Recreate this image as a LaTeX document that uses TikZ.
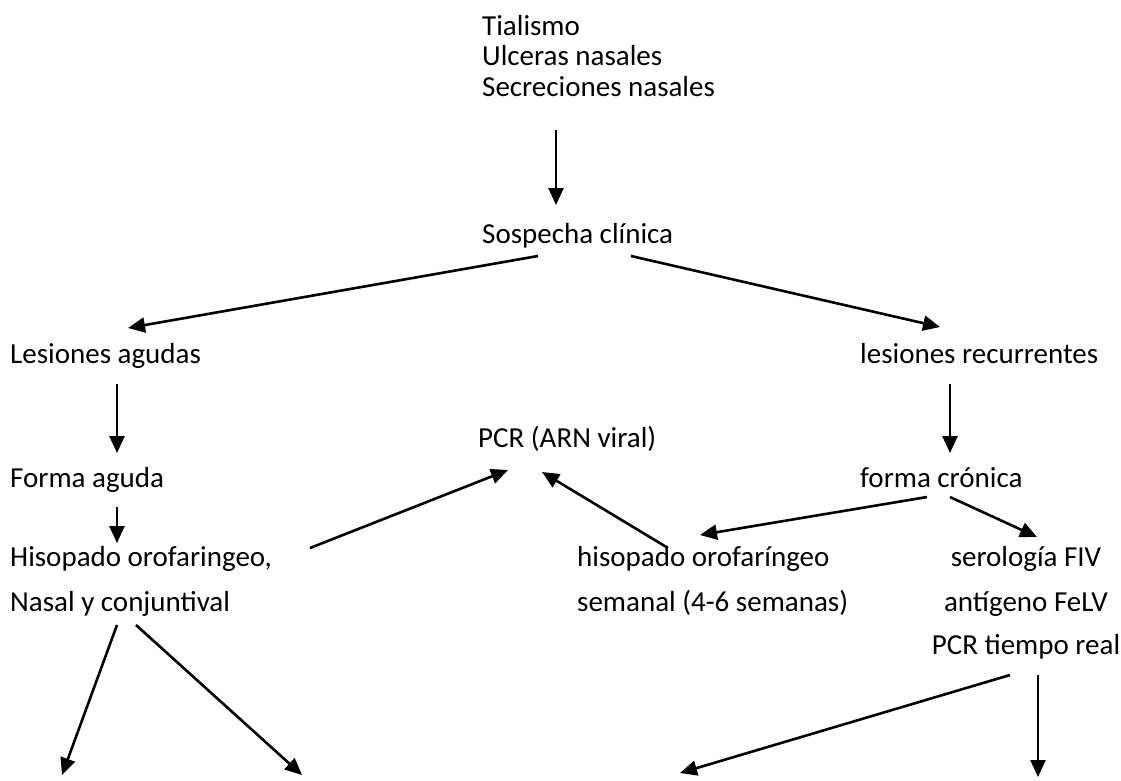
\documentclass[tikz,border=0pt]{standalone}
\usepackage{fontspec}
\setmainfont{Carlito}
\usetikzlibrary{arrows.meta,calc}
\begin{document}
\begin{tikzpicture}[x=1pt,y=-1pt,
  lbl/.style={inner sep=0pt,anchor=base west,font=\fontsize{29}{33}\selectfont},
  clbl/.style={inner sep=0pt,anchor=base,font=\fontsize{29}{33}\selectfont},
  arr/.style={line width=2.6pt,-{Triangle[length=17pt,width=15pt]}}]
\useasboundingbox[fill=white] (0,0) rectangle (1121,780);
% texts
\node[lbl] (t1) at (482,35) {Tialismo};
\node[lbl] (t2) at (482,65.5) {Ulceras nasales};
\node[lbl] (t3) at (482,96) {Secreciones nasales};
\node[lbl] (sosp) at (482,243) {Sospecha clínica};
\node[lbl] (lag) at (10,363) {Lesiones agudas};
\node[lbl] (lrec) at (860,363) {lesiones recurrentes};
\node[lbl] (pcr) at (478,447) {PCR (ARN viral)};
\node[lbl] (fag) at (10,487) {Forma aguda};
\node[lbl] (fcr) at (860,487) {forma crónica};
\node[lbl] (hiso1) at (10,566) {Hisopado orofaringeo,};
\node[lbl] (hiso2) at (10,611) {Nasal y conjuntival};
\node[lbl] (hs1) at (577,566) {hisopado orofaríngeo};
\node[lbl] (hs2) at (577,611) {semanal (4-6 semanas)};
\node[clbl] (ser1) at (1026,566) {serología FIV};
\node[clbl] (ser2) at (1026,611) {antígeno FeLV};
\node[clbl] (ser3) at (1026,654) {PCR tiempo real};
% free ends
\coordinate (e1) at (62,775);
\coordinate (e2) at (302,775);
\coordinate (e3) at (680,773);
\coordinate (e4) at (1038,777);
% connectors
\draw[arr] ($(t3.base west)+(74,34)$) -- ($(sosp.base west)+(74,-38)$);
\draw[arr] ($(sosp.base west)+(56,13)$) -- ($(lag.base west)+(118,-35)$);
\draw[arr] ($(sosp.base west)+(149,13)$) -- ($(lrec.base west)+(80,-36)$);
\draw[arr] ($(lag.base west)+(107,21)$) -- ($(fag.base west)+(107,-34)$);
\draw[arr] ($(lrec.base west)+(90,21)$) -- ($(fcr.base west)+(90,-34)$);
\draw[arr] ($(fag.base west)+(107,20)$) -- ($(hiso1.base west)+(107,-23)$);
\draw[arr] ($(hiso1.base west)+(300,-18)$) -- ($(pcr.base west)+(30,23)$);
\draw[arr] ($(hs1.base west)+(91,-18)$) -- ($(pcr.base west)+(64,25)$);
\draw[arr] ($(fcr.base west)+(67,10)$) -- ($(hs1.base west)+(123,-31)$);
\draw[arr] ($(fcr.base west)+(90,10)$) -- ($(ser1.base)+(11,-29)$);
\draw[arr] ($(hiso2.base west)+(107,14)$) -- (e1);
\draw[arr] ($(hiso2.base west)+(126,14)$) -- (e2);
\draw[arr] ($(ser3.base)+(-16,21)$) -- (e3);
\draw[arr] ($(ser3.base)+(12,21)$) -- (e4);
\end{tikzpicture}
\end{document}
